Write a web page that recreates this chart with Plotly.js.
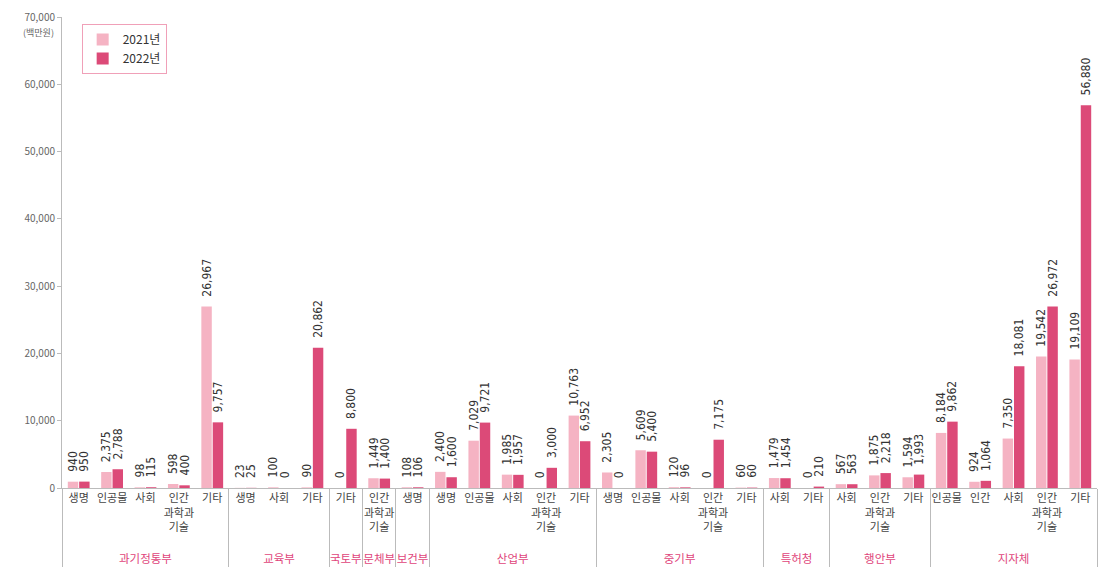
<!DOCTYPE html>
<html>
<head>
<meta charset="utf-8">
<script src="https://cdn.plot.ly/plotly-3.0.1.min.js"></script>
<style>html,body{margin:0;padding:0;background:#fff;}#chart{width:1102px;height:576px;}</style>
</head>
<body>
<div id="chart"></div>
<script>
const HS = '인간<br>과학과<br>기술';
const groups = [
  '과기정통부','과기정통부','과기정통부','과기정통부','과기정통부',
  '교육부','교육부','교육부',
  '국토부','문체부','보건부',
  '산업부','산업부','산업부','산업부','산업부',
  '중기부','중기부','중기부','중기부','중기부',
  '특허청','특허청',
  '행안부','행안부','행안부',
  '지자체','지자체','지자체','지자체','지자체'
];
const categories = [
  '생명','인공물','사회',HS,'기타',
  '생명','사회','기타',
  '기타',HS,'생명',
  '생명','인공물','사회',HS,'기타',
  '생명','인공물','사회',HS,'기타',
  '사회','기타',
  '사회',HS,'기타',
  '인공물','인간','사회',HS,'기타'
];
const v2021 = [
  940,2375,98,598,26967,
  23,100,90,
  0,1449,108,
  2400,7029,1985,0,10763,
  2305,5609,120,0,60,
  1479,0,
  567,1875,1594,
  8184,924,7350,19542,19109
];
const v2022 = [
  950,2788,115,400,9757,
  25,0,20862,
  8800,1400,106,
  1600,9721,1957,3000,6952,
  0,5400,96,7175,60,
  1454,210,
  563,2218,1993,
  9862,1064,18081,26972,56880
];
const seriesNames = ['2021년','2022년'];
const colors = ['#f5b3c3','#dc4a78'];
const groupColor = '#e0457b';

// group labels in pink; each group's sub-labels made unique (zero-width suffix) so Plotly keeps their order
const groupList = [...new Set(groups)];
const xGroups = groups.map(g => '<br><span style="color:' + groupColor + ';font-size:11.5px">' + g + '</span>');
const xCats = categories.map((c, i) => c + '\u200b'.repeat(groupList.indexOf(groups[i])));
const x = [xGroups, xCats];

const font = "'Noto Sans CJK KR', 'Noto Sans', sans-serif";
const numFont = "'Liberation Sans Narrow', 'DejaVu Sans Condensed', 'Noto Sans', sans-serif";
function trace(name, vals, color) {
  return {
    type: 'bar', name: name, x: x, y: vals,
    marker: {color: color},
    text: vals.map(v => '\u00a0\u00a0' + v.toLocaleString('en-US')),
    textposition: 'outside', textangle: -90,
    textfont: {size: 12, color: '#333', family: numFont},
    cliponaxis: false, constraintext: 'none',
    hoverinfo: 'y'
  };
}
const data = [trace(seriesNames[0], v2021, colors[0]), trace(seriesNames[1], v2022, colors[1])];

const layout = {
  width: 1102, height: 576,
  margin: {l: 62, r: 5, t: 17, b: 88},
  paper_bgcolor: '#fff', plot_bgcolor: '#fff',
  font: {family: font, color: '#555', size: 10},
  barmode: 'group', bargap: 0.32, bargroupgap: 0.08,
  showlegend: true,
  legend: {
    x: 0.019, y: 0.985, xanchor: 'left', yanchor: 'top',
    bordercolor: '#f0a0b8', borderwidth: 1, bgcolor: '#fff',
    font: {size: 12, color: '#333', family: font},
    itemwidth: 30, tracegroupgap: 4, entrywidth: 100
  },
  xaxis: {
    type: 'multicategory',
    tickangle: 0,
    showline: true, linecolor: '#bbb', linewidth: 1,
    ticks: '', showgrid: false,
    tickfont: {size: 11, color: '#444', family: font},
    dividercolor: '#bbb', dividerwidth: 1, showdividers: true,
    automargin: false
  },
  yaxis: {
    range: [0, 70000], dtick: 10000, tickformat: ',',
    showline: true, linecolor: '#bbb', linewidth: 1,
    ticks: 'outside', ticklen: 4, tickcolor: '#bbb',
    showgrid: false, zeroline: false,
    tickfont: {size: 10, color: '#666', family: font},
    automargin: false
  },
  annotations: [{
    xref: 'paper', yref: 'y', x: 0, y: 70000, xanchor: 'right', yanchor: 'top',
    xshift: -6, yshift: -7, text: '(백만원)', showarrow: false,
    font: {size: 9, color: '#666', family: font}
  }]
};
Plotly.newPlot('chart', data, layout, {displayModeBar: false, staticPlot: true});
</script>
</body>
</html>
